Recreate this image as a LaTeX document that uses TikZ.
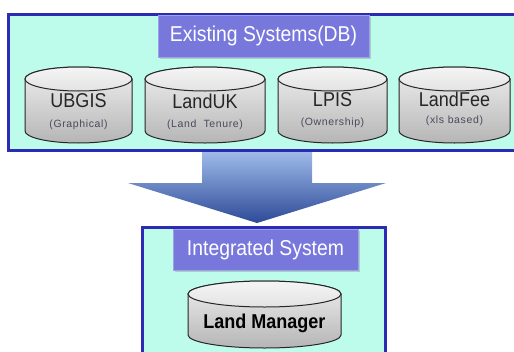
\documentclass[tikz,border=0pt]{standalone}
\usepackage{fontspec}
\setmainfont{Liberation Sans}[FakeStretch=0.9]
\newfontfamily\subfont{Liberation Sans}[LetterSpace=6]
\usetikzlibrary{shadows}
\definecolor{panelfill}{HTML}{BDFCEA}
\definecolor{panelline}{HTML}{2B2BB5}
\definecolor{titlefill}{HTML}{7878DC}
\definecolor{subtext}{HTML}{4A4A5C}
\definecolor{arrowtop}{HTML}{A0BCEA}
\definecolor{arrowbot}{HTML}{2D4A98}
\tikzset{
  panel/.style={draw=panelline, line width=3pt, fill=panelfill},
  titlebox/.style={fill=titlefill, draw=titlefill!70!white, line width=0.6pt,
    drop shadow={shadow xshift=2pt, shadow yshift=-2pt, opacity=0.35, fill=gray}},
  titletext/.style={text=white, font=\fontsize{21.5}{24}\selectfont},
  dbline/.style={draw=black!85, line width=1pt},
  dbname/.style={font=\fontsize{20}{22}\selectfont, text=black!85},
  dbnote/.style={font=\subfont\fontsize{10.5}{12}\selectfont, text=subtext},
}
% database cylinder: name, left x, top y, right x, bottom y, ellipse half height
\newcommand\dbcyl[6]{%
  \pgfmathsetmacro\rx{(#4-#2)/2}%
  \pgfmathsetmacro\cx{(#4+#2)/2}%
  \shade[top color=gray!12, bottom color=gray!58, dbline]
    (#2,#3-#6) -- (#2,#5+#6)
    arc[start angle=180, end angle=360, x radius=\rx, y radius=#6]
    -- (#4,#3-#6)
    arc[start angle=0, end angle=180, x radius=\rx, y radius=#6] -- cycle;
  \shade[top color=gray!8, bottom color=gray!22, dbline]
    (\cx,#3-#6) ellipse[x radius=\rx, y radius=#6];
  \coordinate (#1) at (\cx,{(#3+#5)/2-#6/2});
}
\begin{document}
\begin{tikzpicture}[x=1pt, y=1pt]
\useasboundingbox (0,0) rectangle (514,-351);

% transition arrow
\shade[top color=arrowtop, bottom color=arrowbot]
  (202,-151) -- (312,-151) -- (312,-183) -- (386,-183) -- (257,-223)
  -- (128,-183) -- (202,-183) -- cycle;

% existing systems panel
\draw[panel] (8,-14) rectangle (520,-150);
\node[titlebox, minimum width=211pt, minimum height=42pt] (exist) at (263.5,-36) {};
\node[titletext] (existlbl) at (exist.center) {Existing Systems(DB)};

\dbcyl{ubgis}{25}{-67}{132}{-143}{12}
\dbcyl{landuk}{145}{-67}{265}{-143}{12}
\dbcyl{lpis}{278}{-67}{387}{-143}{12}
\dbcyl{landfee}{399}{-67}{510}{-143}{12}

\node[dbname] (ubgisname) at (78.5,-101) {UBGIS};
\node[dbnote] (ubgisnote) at (78.5,-125) {(Graphical)};
\node[dbname] (landukname) at (205,-101) {LandUK};
\node[dbnote] (laukdnote) at (205,-125) {(Land\ \ Tenure)};
\node[dbname] (lpisname) at (332.5,-100) {LPIS};
\node[dbnote] (lpisnote) at (332.5,-123) {(Ownership)};
\node[dbname] (landfeename) at (454.5,-99) {LandFee};
\node[dbnote] (landfeenote) at (454.5,-121) {(xls based)};

% integrated system panel
\draw[panel] (142,-227) rectangle (385,-360);
\node[titlebox, minimum width=185pt, minimum height=41pt] (integ) at (265.5,-249.5) {};
\node[titletext] (integlbl) at (integ.center) {Integrated System};

\dbcyl{lm}{188}{-281}{341}{-348}{13}
\node[font=\fontsize{20}{22}\selectfont\bfseries, text=black] (lmname) at (264.5,-323) {Land Manager};
\end{tikzpicture}
\end{document}
